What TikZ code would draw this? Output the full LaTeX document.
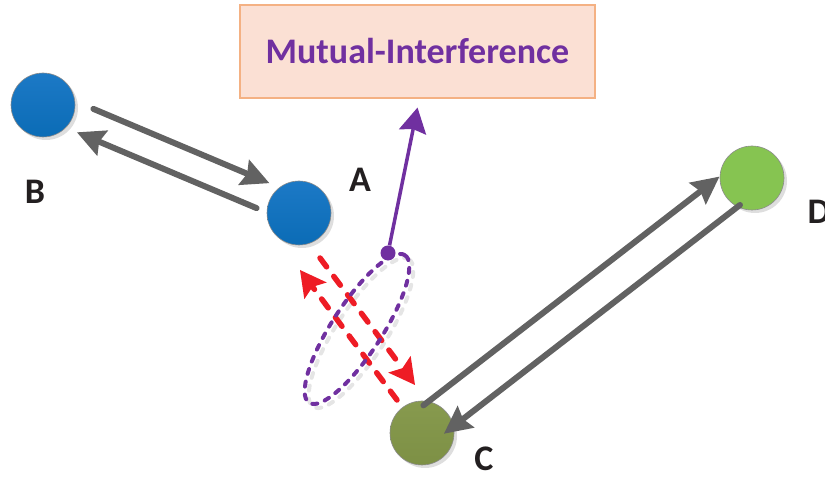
\documentclass[tikz,border=0pt]{standalone}
\usepackage{fontspec}
\setmainfont{Carlito}
\usetikzlibrary{calc, arrows.meta, shadows}

\definecolor{nodeblue}{HTML}{0B6CB6}
\definecolor{nodeblueT}{HTML}{1C79C6}
\definecolor{nodegreen}{HTML}{86C451}
\definecolor{nodeolive}{HTML}{7D9045}
\definecolor{nodeoliveT}{HTML}{879A4E}
\definecolor{linkgray}{HTML}{626262}
\definecolor{mipurple}{HTML}{7030A0}
\definecolor{boxfill}{HTML}{FBE0D4}
\definecolor{boxedge}{HTML}{F4B183}
\definecolor{jamred}{HTML}{EE1C25}
\definecolor{labelblack}{HTML}{231F20}

\begin{document}
\begin{tikzpicture}[x=1pt, y=1pt,
    station/.style={circle, minimum size=64pt, inner sep=0pt, draw=black!45, line width=0.6pt,
      drop shadow={shadow xshift=3pt, shadow yshift=-3pt, fill=black!13, opacity=1}},
    tag/.style={font=\bfseries\fontsize{36}{36}\selectfont, text=labelblack, inner sep=0pt},
    link/.style={draw=linkgray, line width=6pt, line cap=round,
      -{Stealth[length=28pt, width=28pt, inset=4pt, line width=0pt]}},
    jam/.style={draw=jamred, line width=5.5pt, line cap=round, dash pattern=on 11pt off 12pt,
      -{Stealth[length=26pt, width=28pt, inset=5pt, line width=0pt]}},
    lobe/.style={line width=4pt, line cap=round, dash pattern=on 5pt off 8pt}]
  \useasboundingbox (0,0) rectangle (825,479);

  \node[draw=boxedge, fill=boxfill, line width=1.2pt, minimum width=355pt, minimum height=93pt,
    font=\bfseries\fontsize{36}{36}\selectfont, text=mipurple] (mi) at (417.5,427.5) {Mutual-Interference};

  \node[station, top color=nodeblueT, bottom color=nodeblue] (B) at (43,374) {};
  \node[station, top color=nodeblueT, bottom color=nodeblue] (A) at (299,266) {};
  \node[station, top color=nodeoliveT, bottom color=nodeolive] (C) at (422,46) {};
  \node[station, fill=nodegreen] (D) at (752,301) {};

  \node[tag] (lblB) at (35,287) {B};
  \node[tag] (lblA) at (360,299) {A};
  \node[tag] (lblC) at (484,20) {C};
  \node[tag] (lblD) at (819,267) {D};

  \draw[link] ($(B)!48pt!(A)!16pt!90:(A)$) -- ($(A)!39pt!(B)!16pt!-90:(B)$);
  \draw[link] ($(A)!41pt!(B)!12pt!90:(B)$) -- ($(B)!42pt!(A)!12pt!-90:(A)$);
  \draw[link] ($(C)!18pt!(D)!21pt!90:(D)$) -- ($(D)!25pt!(C)!21pt!-90:(C)$);
  \draw[link] ($(D)!26pt!(C)!14pt!90:(C)$) -- ($(C)!17pt!(D)!14pt!-90:(D)$);

  \draw[lobe, draw=black!10, rotate around={57:(361,146)}] (361,146) ellipse [x radius=88, y radius=25];
  \coordinate (up1) at (397,79);
  \coordinate (up2) at (300,209);
  \coordinate (dn1) at (320,221);
  \coordinate (dn2) at (415,94);
  \draw[jam] (up1) -- (up2);
  \draw[jam] (dn1) -- (dn2);
  \draw[lobe, draw=mipurple, rotate around={57:(357,150)}] (357,150) ellipse [x radius=88, y radius=25];

  \node[circle, fill=mipurple, minimum size=15pt, inner sep=0pt] (tx) at (388,226) {};
  \draw[draw=mipurple, line width=3.5pt, -{Stealth[length=25pt, width=28pt, inset=3pt, line width=0pt]}]
    (tx) -- ([yshift=-9pt]mi.south);
\end{tikzpicture}
\end{document}
